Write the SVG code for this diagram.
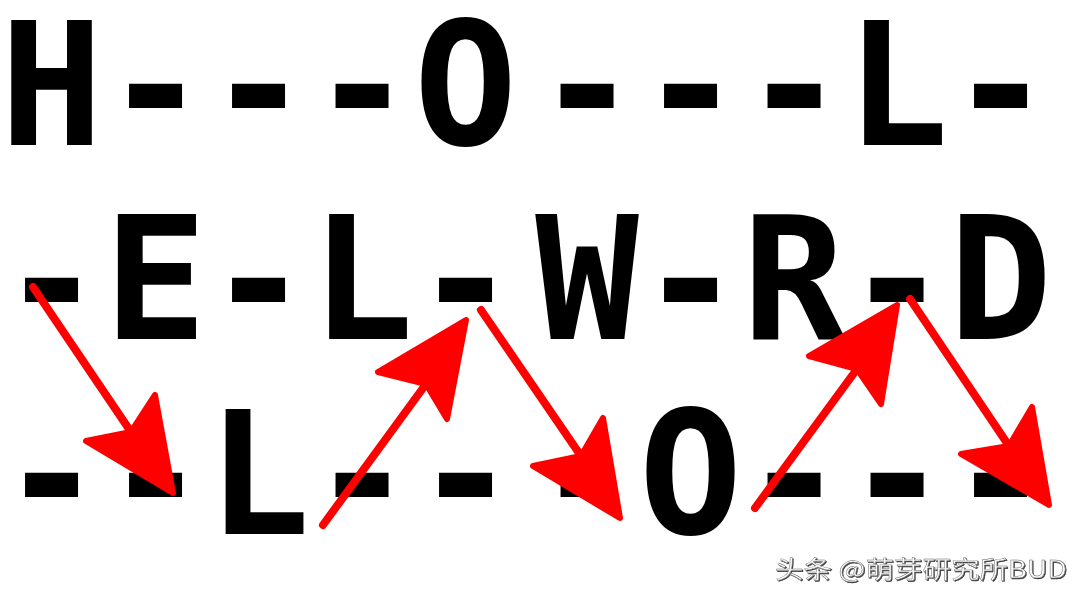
<svg xmlns="http://www.w3.org/2000/svg" width="1080" height="603" viewBox="0 0 1080 603">
  <defs>
    <filter id="shadow" x="-5%" y="-30%" width="110%" height="160%">
      <feDropShadow dx="1" dy="1" stdDeviation="0.6" flood-color="#222" flood-opacity="0.9"/>
    </filter>
  </defs>
  <style>
    .row { font-family: "DejaVu Sans Mono", "Liberation Mono", monospace; font-weight: bold; font-size: 172px; fill: #000; text-anchor: middle; }
    .shaft { stroke: #ff0000; stroke-width: 8; stroke-linecap: round; fill: none; }
    .head { fill: #ff0000; stroke: #ff0000; stroke-width: 6; stroke-linejoin: round; }
    .mark { font-family: "Noto Sans CJK SC", "Noto Sans", sans-serif; font-size: 24px; fill: #fafafa; stroke: #666; stroke-width: 0.4; }
  </style>
  <rect width="1080" height="603" fill="#fff"/>
  <g id="row1">
    <text class="row" x="51.5 155.5 258.5 362 465.5 587 690.5 794 897 1000.5" y="145">H---O---L-</text>
  </g>
  <g id="row2">
    <text class="row" x="51.5 155.5 258.5 362 465.5 587 690.5 794 897 1000.5" y="339">-E-L-W-R-D</text>
  </g>
  <g id="row3">
    <text class="row" x="51.5 155.5 258.5 362 465.5 587 690.5 794 897 1000.5" y="534">--L---O---</text>
  </g>
  <g id="connectors">
    <line class="shaft" x1="33" y1="287" x2="131" y2="432"/>
    <polygon class="head" points="173,493 86,441 131,432 155,395"/>
    <line class="shaft" x1="323" y1="525" x2="426" y2="384"/>
    <polygon class="head" points="466,320 378,372 426,384 447,419"/>
    <line class="shaft" x1="481" y1="310" x2="581" y2="456"/>
    <polygon class="head" points="620,518 533,466 581,456 603,418"/>
    <line class="shaft" x1="755" y1="508" x2="857" y2="369"/>
    <polygon class="head" points="897,305 809,356 857,369 881,404"/>
    <line class="shaft" x1="910" y1="299" x2="1009" y2="446"/>
    <polygon class="head" points="1049,505 961,454 1009,446 1032,407"/>
  </g>
  <g id="watermark" filter="url(#shadow)">
    <text class="mark" x="775" y="578" textLength="292" lengthAdjust="spacingAndGlyphs">头条 @萌芽研究所BUD</text>
  </g>
</svg>
